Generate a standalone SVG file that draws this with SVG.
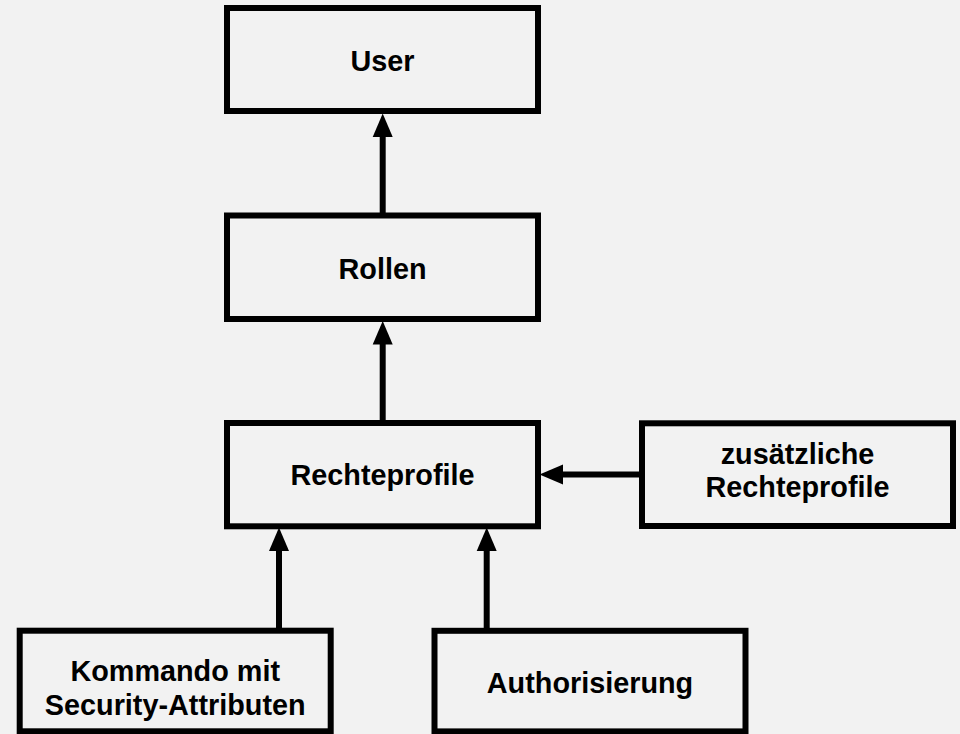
<svg xmlns="http://www.w3.org/2000/svg" width="960" height="734" viewBox="0 0 960 734">
<style>
.box{fill:#f2f2f2;stroke:#000;stroke-width:6}
.lbl{font-family:"Liberation Sans",Arial,Helvetica,sans-serif;font-weight:bold;font-size:28.8px;fill:#000;text-anchor:middle}
.conn{stroke:#000;stroke-width:6;fill:none}
.head{fill:#000;stroke:none}
</style>
<rect width="960" height="734" fill="#f2f2f2"/>
<g id="connectors">
<line class="conn" x1="382.7" y1="213" x2="382.7" y2="135"/>
<polygon class="head" points="382.7,113.5 372.7,137 392.7,137"/>
<line class="conn" x1="382.7" y1="420" x2="382.7" y2="343"/>
<polygon class="head" points="382.7,321 372.7,344.5 392.7,344.5"/>
<line class="conn" x1="639" y1="474.6" x2="561" y2="474.6"/>
<polygon class="head" points="539.5,474.6 563,464.6 563,484.6"/>
<line class="conn" x1="279" y1="628" x2="279" y2="550"/>
<polygon class="head" points="279,527.5 269,551 289,551"/>
<line class="conn" x1="486.7" y1="628" x2="486.7" y2="550"/>
<polygon class="head" points="486.7,527.5 476.7,551 496.7,551"/>
</g>
<g id="user">
<rect class="box" x="227" y="8" width="311" height="103"/>
<text class="lbl" x="382.5" y="70.5">User</text>
</g>
<g id="rollen">
<rect class="box" x="227" y="215.5" width="311" height="103.5"/>
<text class="lbl" x="382.5" y="279">Rollen</text>
</g>
<g id="rechteprofile">
<rect class="box" x="227" y="423" width="311" height="103.3"/>
<text class="lbl" x="382.5" y="485">Rechteprofile</text>
</g>
<g id="zusaetzliche">
<rect class="box" x="642" y="423.3" width="311" height="102.7"/>
<text class="lbl" x="797.5" y="464.3">zusätzliche</text>
<text class="lbl" x="797.5" y="496.7">Rechteprofile</text>
</g>
<g id="kommando">
<rect class="box" x="19.7" y="630.7" width="311" height="100.6"/>
<text class="lbl" x="175.2" y="681">Kommando mit</text>
<text class="lbl" x="175.2" y="715">Security-Attributen</text>
</g>
<g id="authorisierung">
<rect class="box" x="434.5" y="630.8" width="311" height="100.6"/>
<text class="lbl" x="590" y="692.7">Authorisierung</text>
</g>
</svg>
